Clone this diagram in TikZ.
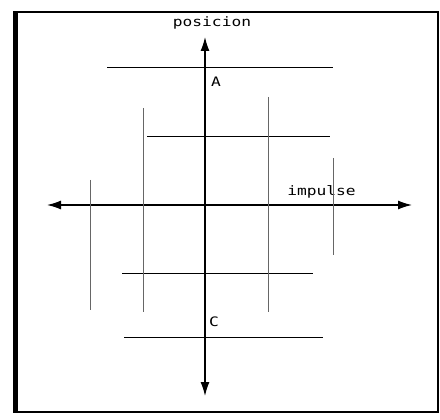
\documentclass[tikz,border=0pt]{standalone}
\usepackage{fontspec}
\setmonofont{DejaVu Sans Mono}
\usetikzlibrary{arrows.meta}

\begin{document}
\begin{tikzpicture}[
  x=1pt, y=-1pt,
  font=\ttfamily\fontsize{13}{13}\selectfont,
  axis/.style={line width=1.4pt, -{Latex[length=14pt, width=9pt]}},
  level/.style={line width=1pt},
  bound/.style={line width=0.5pt, gray!80!black},
  lbl/.style={inner sep=0pt, xscale=1.25}
]
\useasboundingbox (0,0) rectangle (440,420);
% frame
\draw[line width=2.5pt] (14,12) rectangle (438,412);
\draw[line width=3pt] (16,12) -- (16,412);

% axes
\coordinate (o) at (205,205);
\coordinate (top) at (205,37);
\coordinate (bot) at (205,396);
\coordinate (left) at (47,205);
\coordinate (right) at (412,205);
\draw[axis] (o) -- (top);
\draw[axis] (o) -- (bot);
\draw[axis] (o) -- (left);
\draw[axis] (o) -- (right);

\node[lbl] (pos) at (212,23) {posicion};
\node[lbl, anchor=west] (imp) at (287,192) {impulse};
\node[lbl] (a) at (216,82) {A};
\node[lbl] (c) at (214,322) {C};

% horizontal levels
\draw[level] (107,68) -- (333,68);
\draw[level] (147,137) -- (330,137);
\draw[level] (122,273) -- (313,273);
\draw[level] (124,337) -- (323,337);

% vertical bounds
\draw[bound] (90,180) -- (90,310);
\draw[bound] (143,108) -- (143,312);
\draw[bound] (268,97) -- (268,312);
\draw[bound] (333,158) -- (333,255);
\end{tikzpicture}
\end{document}
